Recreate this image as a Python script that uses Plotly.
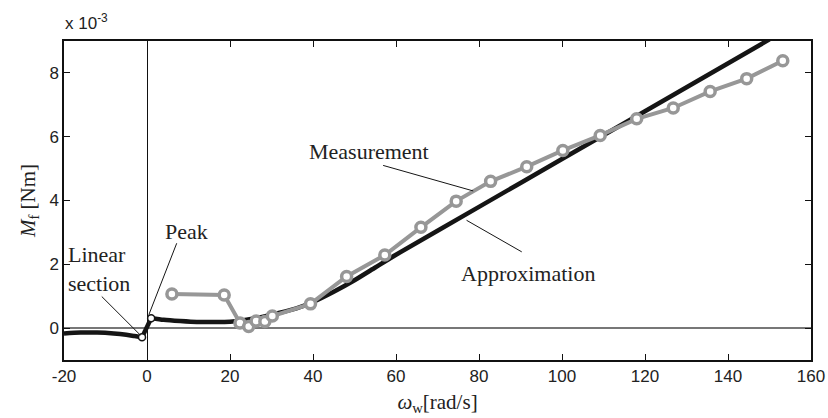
import plotly.graph_objects as go

# ---- data (torque in units of 1e-3 Nm) ----
meas_x = [6.0, 18.6, 22.4, 24.5, 26.3, 28.4, 30.2, 39.4, 48.1, 57.3, 66.0, 74.5,
          82.8, 91.5, 100.2, 109.2, 118.0, 126.8, 135.7, 144.5, 153.2]
meas_y = [1.07, 1.04, 0.16, 0.05, 0.22, 0.21, 0.38, 0.76, 1.62, 2.29, 3.16, 3.98,
          4.60, 5.06, 5.57, 6.04, 6.56, 6.90, 7.42, 7.82, 8.38]

approx_left_x = [-20, -16, -12, -8, -5, -3, -1.2]
approx_left_y = [-0.17, -0.14, -0.14, -0.17, -0.21, -0.25, -0.29]
approx_right_x = [1, 4, 8, 12, 16, 20, 24, 28, 32, 36, 40, 45, 50, 55, 60, 80, 100, 120, 150]
approx_right_y = [0.31, 0.26, 0.22, 0.19, 0.19, 0.20, 0.26, 0.36, 0.48, 0.62, 0.82,
                  1.14, 1.50, 1.90, 2.30, 3.80, 5.30, 6.80, 9.05]

x_ticks = [-20, 0, 20, 40, 60, 80, 100, 120, 140, 160]
y_ticks = [0, 2, 4, 6, 8]

BLACK = "#151515"
GRAY = "#979797"
SERIF = "Liberation Serif"
SANS = "Liberation Sans, Arial"

fig = go.Figure()

# approximation curve
fig.add_trace(go.Scatter(x=approx_left_x, y=approx_left_y, mode="lines",
                         line=dict(color=BLACK, width=4.5, shape="spline", smoothing=0.8),
                         hoverinfo="skip", showlegend=False))
fig.add_trace(go.Scatter(x=[approx_left_x[-1], approx_right_x[0]],
                         y=[approx_left_y[-1], approx_right_y[0]], mode="lines",
                         line=dict(color=BLACK, width=4.5), showlegend=False))
fig.add_trace(go.Scatter(x=approx_right_x, y=approx_right_y, mode="lines",
                         line=dict(color=BLACK, width=4.5, shape="spline", smoothing=0.6),
                         showlegend=False))

# measurement
fig.add_trace(go.Scatter(x=meas_x, y=meas_y, mode="lines+markers",
                         line=dict(color=GRAY, width=4),
                         marker=dict(symbol="circle", size=10, color="white",
                                     line=dict(color=GRAY, width=3.5)),
                         showlegend=False))

# linear section / peak markers
fig.add_trace(go.Scatter(x=[approx_left_x[-1], approx_right_x[0]],
                         y=[approx_left_y[-1], approx_right_y[0]], mode="markers",
                         marker=dict(symbol="circle", size=7, color="white",
                                     line=dict(color=BLACK, width=1.5)),
                         showlegend=False))

# leader lines
leaders = [
    ((7.16, 2.66), (0.45, 0.42)),
    ((-10.9, 0.99), (-1.6, -0.22)),
    ((56.9, 5.10), (78.6, 4.30)),
    ((77.0, 3.38), (90.3, 2.39)),
]
for (x0, y0), (x1, y1) in leaders:
    fig.add_shape(type="line", x0=x0, y0=y0, x1=x1, y1=y1, xref="x", yref="y",
                  line=dict(color=BLACK, width=1))

ann_font = dict(family=SERIF, size=22, color="#222")
fig.add_annotation(x=9.55, y=3.02, text="Peak", showarrow=False, font=ann_font,
                   xanchor="center", yanchor="middle")
fig.add_annotation(x=-19.6, y=1.84, text="Linear<br>section", showarrow=False,
                   font=ann_font, xanchor="left", yanchor="middle", align="left")
fig.add_annotation(x=53.6, y=5.55, text="Measurement", showarrow=False, font=ann_font,
                   xanchor="center", yanchor="middle")
fig.add_annotation(x=91.7, y=1.72, text="Approximation", showarrow=False, font=ann_font,
                   xanchor="center", yanchor="middle")

# exponent label
fig.add_annotation(xref="paper", yref="paper", x=-0.002, y=1.0, yshift=6,
                   text="x 10<sup>-3</sup>", showarrow=False,
                   font=dict(family=SANS, size=17, color="#222"),
                   xanchor="left", yanchor="bottom")

axis_common = dict(showline=True, linecolor="#111", linewidth=1.5, mirror="ticks",
                   ticks="inside", ticklen=6, tickwidth=1, tickcolor="#111",
                   showgrid=False, automargin=False,
                   tickfont=dict(family=SANS, size=17, color="#222"))

fig.update_xaxes(range=[-20, 160], tickvals=x_ticks, ticktext=[str(v) for v in x_ticks],
                 zeroline=True, zerolinecolor="#111", zerolinewidth=1,
                 title=dict(text="<i>ω</i><sub>w</sub>[rad/s]",
                            font=dict(family=SERIF, size=21, color="#222"), standoff=9),
                 **axis_common)
fig.update_yaxes(range=[-1, 9], tickvals=y_ticks, ticktext=[str(v) for v in y_ticks],
                 zeroline=True, zerolinecolor="#777", zerolinewidth=1.5,
                 title=dict(text="<i>M</i><sub>f</sub> [Nm]",
                            font=dict(family=SERIF, size=21, color="#222"), standoff=8),
                 **axis_common)

fig.update_layout(width=828, height=418, margin=dict(l=64, r=17, t=41, b=58),
                  paper_bgcolor="white", plot_bgcolor="white")

fig.write_html("out.html")
